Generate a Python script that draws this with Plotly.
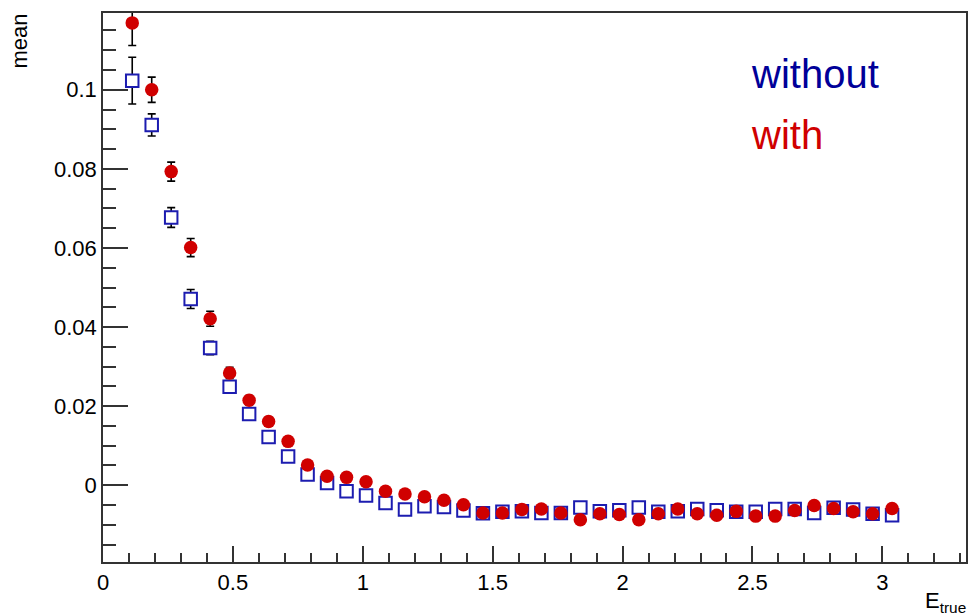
import plotly.graph_objects as go

# bin centres (E_true)
e_true = [0.1125 + 0.075 * i for i in range(40)]

# mean values
mean_without = [0.1023, 0.0911, 0.0677, 0.0471, 0.0347, 0.0249, 0.0180, 0.0122, 0.0073, 0.0027,
                0.0006, -0.0015, -0.0026, -0.0045, -0.0061, -0.0053, -0.0055, -0.0064, -0.0071, -0.0067,
                -0.0066, -0.0070, -0.0070, -0.0056, -0.0066, -0.0063, -0.0056, -0.0067, -0.0066, -0.0060,
                -0.0063, -0.0067, -0.0067, -0.0060, -0.0060, -0.0070, -0.0057, -0.0061, -0.0072, -0.0076]
err_without = [0.0059, 0.0028, 0.0025, 0.0024, 0.0017, 0.0014, 0.0012, 0.0011, 0.0010, 0.0010,
               0.0009, 0.0009, 0.0009, 0.0008, 0.0008, 0.0008, 0.0008, 0.0008, 0.0008, 0.0008,
               0.0008, 0.0008, 0.0008, 0.0008, 0.0008, 0.0008, 0.0008, 0.0008, 0.0008, 0.0008,
               0.0008, 0.0008, 0.0008, 0.0008, 0.0008, 0.0008, 0.0008, 0.0008, 0.0008, 0.0008]

mean_with = [0.1169, 0.1000, 0.0793, 0.0601, 0.0421, 0.0284, 0.0215, 0.0161, 0.0111, 0.0051,
             0.0023, 0.0020, 0.0009, -0.0015, -0.0022, -0.0029, -0.0038, -0.0049, -0.0070, -0.0070,
             -0.0061, -0.0060, -0.0070, -0.0087, -0.0072, -0.0074, -0.0087, -0.0072, -0.0060, -0.0072,
             -0.0076, -0.0066, -0.0078, -0.0078, -0.0064, -0.0051, -0.0059, -0.0067, -0.0072, -0.0059]
err_with = [0.0057, 0.0032, 0.0024, 0.0023, 0.0019, 0.0014, 0.0012, 0.0011, 0.0010, 0.0010,
            0.0009, 0.0009, 0.0009, 0.0008, 0.0008, 0.0008, 0.0008, 0.0008, 0.0008, 0.0008,
            0.0008, 0.0008, 0.0008, 0.0008, 0.0008, 0.0008, 0.0008, 0.0008, 0.0008, 0.0008,
            0.0008, 0.0008, 0.0008, 0.0008, 0.0008, 0.0008, 0.0008, 0.0008, 0.0008, 0.0008]

x_ticks = [0, 0.5, 1, 1.5, 2, 2.5, 3]
x_ticklabels = ["0", "0.5", "1", "1.5", "2", "2.5", "3"]
y_ticks = [0, 0.02, 0.04, 0.06, 0.08, 0.1]
y_ticklabels = ["0", "0.02", "0.04", "0.06", "0.08", "0.1"]

FONT = "Liberation Sans, Arial, Helvetica, sans-serif"
BLUE = "#1c1cb0"
BLUE_TXT = "#000099"
RED = "#d00000"

fig = go.Figure()
fig.add_trace(go.Scatter(
    x=e_true, y=mean_without, mode="markers", name="without",
    marker=dict(symbol="square", size=12.5, color="white", line=dict(color=BLUE, width=2)),
    error_y=dict(type="data", array=err_without, color="black", thickness=1.6, width=4),
    showlegend=False,
))
fig.add_trace(go.Scatter(
    x=e_true, y=mean_with, mode="markers", name="with",
    marker=dict(symbol="circle", size=13.5, color=RED, line=dict(width=0)),
    error_y=dict(type="data", array=err_with, color="black", thickness=1.6, width=4),
    showlegend=False,
))

axis_common = dict(
    showgrid=False, zeroline=False, showline=True, linecolor="#333333", linewidth=1.5,
    mirror=True, ticks="inside", tickcolor="#333333", tickwidth=1.5,
    tickfont=dict(family=FONT, size=22, color="black"),
)
fig.update_xaxes(range=[0, 3.322], tickvals=x_ticks, ticktext=x_ticklabels, ticklen=16,
                 minor=dict(ticks="inside", dtick=0.1, ticklen=9, tickcolor="#333333", tickwidth=1.5),
                 **axis_common)
fig.update_yaxes(range=[-0.0194, 0.1194], tickvals=y_ticks, ticktext=y_ticklabels, ticklen=25,
                 minor=dict(ticks="inside", dtick=0.005, ticklen=13, tickcolor="#333333", tickwidth=1.5),
                 **axis_common)

fig.update_layout(
    width=970, height=616,
    margin=dict(l=103, r=2, t=13, b=54),
    paper_bgcolor="white", plot_bgcolor="white",
    font=dict(family=FONT, color="black"),
    annotations=[
        dict(text="without", xref="paper", yref="paper", x=0.748, y=0.889, xanchor="left",
             yanchor="middle", showarrow=False, font=dict(family=FONT, size=40, color=BLUE_TXT)),
        dict(text="with", xref="paper", yref="paper", x=0.748, y=0.777, xanchor="left",
             yanchor="middle", showarrow=False, font=dict(family=FONT, size=40, color=RED)),
        dict(text="mean", xref="paper", yref="paper", x=0, y=1, xanchor="center", yanchor="top",
             xshift=-84, yshift=1, textangle=-90, showarrow=False,
             font=dict(family=FONT, size=22, color="black")),
        dict(text="E<sub>true</sub>", xref="paper", yref="paper", x=1, y=0, xanchor="right",
             yanchor="top", yshift=-24, xshift=2, showarrow=False,
             font=dict(family=FONT, size=22, color="black")),
    ],
)

fig.write_html("out.html")
